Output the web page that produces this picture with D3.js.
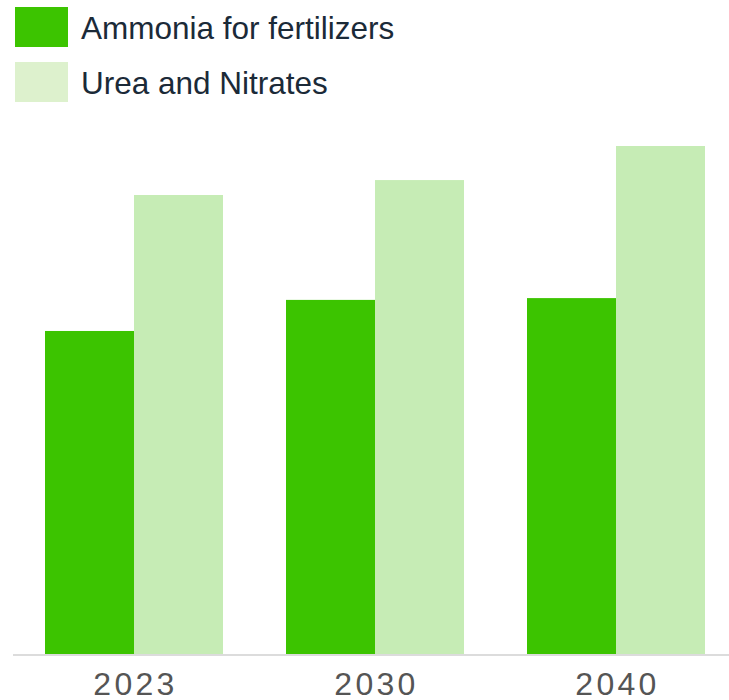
<!DOCTYPE html>
<head>
    <title>Ammonia and Urea</title>
    <style>
        body{ margin: 0; background: #fff; }
        svg{ display: block; }
        text{ font-family: "Liberation Sans", Arial, sans-serif; }
    </style>
    <script src="https://d3js.org/d3.v7.min.js"></script>
</head>
<body>
    <svg width="729" height="700"></svg>

    <script>
        // Daten
        var years = ["2023", "2030", "2040"];
        var seriesNames = ["Ammonia for fertilizers", "Urea and Nitrates"];
        var ammonia = [108.1, 118.5, 119.1];
        var urea = [153.6, 158.6, 170];
        var barColors = ["#3cc400", "#c6ecb5"];
        var legendColors = ["#3cc400", "#ddf1cd"];

        var svg = d3.select("svg");
        var baseY = 654;

        var x = d3.scaleBand()
            .domain(years)
            .range([45, 705])
            .paddingInner(0.2614)
            .paddingOuter(0);

        var xs = d3.scaleBand()
            .domain(seriesNames)
            .range([0, x.bandwidth()]);

        var y = d3.scaleLinear()
            .domain([0, 170])
            .range([baseY, 146]);

        var values = [ammonia, urea];

        // Achsenlinie
        svg.append("line")
            .attr("x1", 13).attr("x2", 729)
            .attr("y1", baseY + 1).attr("y2", baseY + 1)
            .attr("stroke", "#dcdcdc")
            .attr("stroke-width", 2);

        // Balken
        seriesNames.forEach(function(s, si){
            svg.append("g")
                .selectAll("rect")
                .data(years)
                .join("rect")
                .attr("x", function(d){ return x(d) + xs(s); })
                .attr("y", function(d, i){ return y(values[si][i]); })
                .attr("width", xs.bandwidth())
                .attr("height", function(d, i){ return baseY - y(values[si][i]); })
                .attr("fill", barColors[si]);
        });

        // Jahreszahlen
        svg.append("g")
            .selectAll("text")
            .data(years)
            .join("text")
            .attr("x", function(d){ return x(d) + x.bandwidth() / 2 + 1.5; })
            .attr("y", 695)
            .attr("text-anchor", "middle")
            .style("font-size", "32px")
            .style("letter-spacing", "3.3px")
            .attr("fill", "#555555")
            .text(function(d){ return d; });

        // Legende
        var legend = svg.append("g")
            .selectAll("g")
            .data(seriesNames)
            .join("g")
            .attr("transform", function(d, i){ return "translate(15," + (7 + i * 55) + ")"; });

        legend.append("rect")
            .attr("width", 53)
            .attr("height", 40)
            .attr("fill", function(d, i){ return legendColors[i]; });

        legend.append("text")
            .attr("x", 66)
            .attr("y", 32)
            .style("font-size", "31.5px")
            .attr("fill", "#1b2a38")
            .text(function(d){ return d; });
    </script>
</body>
</html>
